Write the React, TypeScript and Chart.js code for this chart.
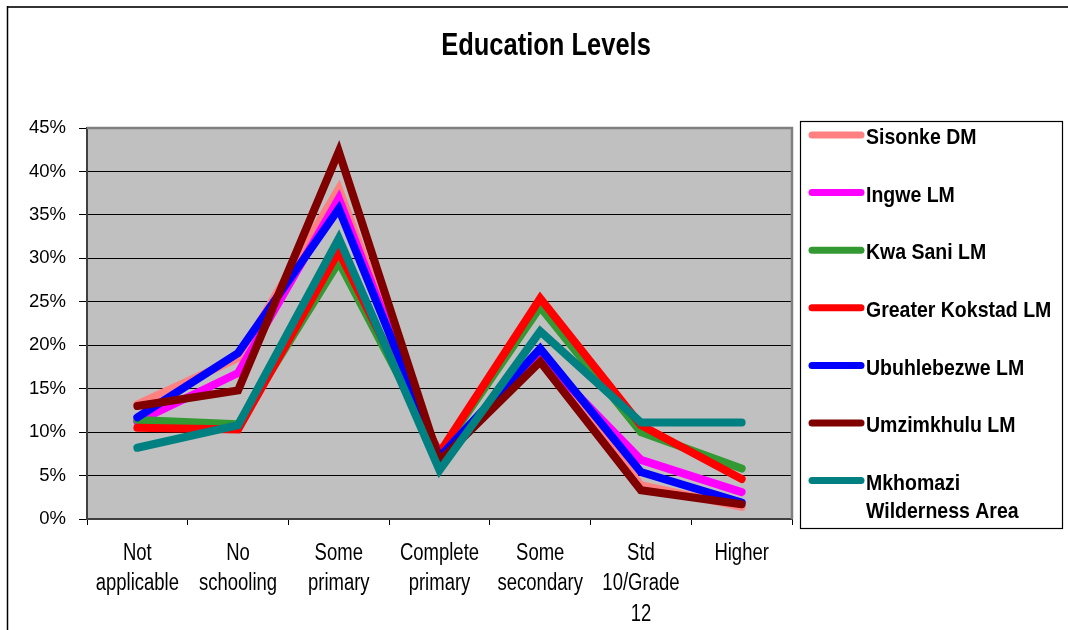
import React, { useEffect, useRef } from "react";
import { Chart, registerables } from "chart.js";

Chart.register(...registerables);

const TITLE = "Education Levels";

const categories: string[][] = [
  ["Not", "applicable"],
  ["No", "schooling"],
  ["Some", "primary"],
  ["Complete", "primary"],
  ["Some", "secondary"],
  ["Std", "10/Grade", "12"],
  ["Higher"],
];

const seriesNames: string[][] = [
  ["Sisonke DM"],
  ["Ingwe LM"],
  ["Kwa Sani LM"],
  ["Greater Kokstad LM"],
  ["Ubuhlebezwe LM"],
  ["Umzimkhulu LM"],
  ["Mkhomazi", "Wilderness Area"],
];

const seriesColors = ["#FF8080", "#FF00FF", "#339933", "#FF0000", "#0000FF", "#800000", "#008080"];

const sisonke = [13.2, 18.5, 38.0, 6.9, 18.5, 3.9, 1.4];
const ingwe = [11.2, 16.8, 36.9, 7.0, 18.7, 6.8, 3.1];
const kwaSani = [11.4, 10.9, 29.6, 7.5, 24.4, 10.0, 5.8];
const greaterKokstad = [10.5, 10.3, 30.8, 7.6, 25.4, 10.8, 4.6];
const ubuhlebezwe = [11.7, 19.1, 35.7, 7.1, 19.6, 5.4, 1.9];
const umzimkhulu = [13.0, 14.8, 42.3, 6.7, 18.1, 3.3, 1.7];
const mkhomazi = [8.2, 10.8, 32.3, 5.6, 21.6, 11.1, 11.1];

const seriesValues = [sisonke, ingwe, kwaSani, greaterKokstad, ubuhlebezwe, umzimkhulu, mkhomazi];

const yTicks = [0, 5, 10, 15, 20, 25, 30, 35, 40, 45];

const FONT = "'Liberation Sans', Arial, sans-serif";

function stretchedText(ctx: CanvasRenderingContext2D, t: string, x: number, y: number, sy: number) {
  ctx.save();
  ctx.translate(x, y);
  ctx.scale(1, sy);
  ctx.fillText(t, 0, 0);
  ctx.restore();
}

const decorPlugin = {
  id: "decor",
  beforeDraw(chart: any) {
    const { ctx, chartArea } = chart;
    ctx.save();
    ctx.fillStyle = "#FFFFFF";
    ctx.fillRect(0, 0, chart.width, chart.height);
    ctx.fillStyle = "#C0C0C0";
    ctx.fillRect(chartArea.left, chartArea.top, chartArea.right - chartArea.left, chartArea.bottom - chartArea.top);
    ctx.restore();
  },
  afterDraw(chart: any) {
    const { ctx, chartArea } = chart;
    ctx.save();
    // plot top and right border
    ctx.strokeStyle = "#808080";
    ctx.lineWidth = 2.5;
    ctx.beginPath();
    ctx.moveTo(chartArea.left, chartArea.top);
    ctx.lineTo(chartArea.right, chartArea.top);
    ctx.lineTo(chartArea.right, chartArea.bottom);
    ctx.stroke();

    // outer frame
    ctx.strokeStyle = "#333333";
    ctx.lineWidth = 2;
    ctx.beginPath();
    ctx.moveTo(7, 7);
    ctx.lineTo(chart.width, 7);
    ctx.stroke();
    ctx.strokeStyle = "#000000";
    ctx.lineWidth = 1.5;
    ctx.beginPath();
    ctx.moveTo(7.5, 6);
    ctx.lineTo(7.5, chart.height);
    ctx.stroke();

    // title
    ctx.fillStyle = "#000";
    ctx.font = `bold 25.5px ${FONT}`;
    ctx.textAlign = "center";
    ctx.textBaseline = "middle";
    stretchedText(ctx, TITLE, 546, 46, 1.22);

    // category labels, positioned by the x scale
    const xs = chart.scales.x;
    ctx.font = `18.5px ${FONT}`;
    ctx.textAlign = "center";
    categories.forEach((lines, i) => {
      const px = xs.getPixelForValue(i);
      lines.forEach((t, j) => {
        stretchedText(ctx, t, px, 553 + j * 30.5, 1.28);
      });
    });

    // legend box
    const bx = 800, by = 121, bw = 262, bh = 407;
    ctx.strokeStyle = "#000";
    ctx.lineWidth = 1.2;
    ctx.strokeRect(bx + 0.5, by + 0.5, bw, bh);
    ctx.font = `bold 19.5px ${FONT}`;
    ctx.textAlign = "left";
    chart.data.datasets.forEach((ds: any, i: number) => {
      const ly = 135 + i * 57.6;
      ctx.strokeStyle = ds.borderColor;
      ctx.lineWidth = 7;
      ctx.lineCap = "round";
      ctx.beginPath();
      ctx.moveTo(812, ly);
      ctx.lineTo(861, ly);
      ctx.stroke();
      ctx.fillStyle = "#000";
      const lines: string[] = seriesNames[i];
      lines.forEach((t, j) => {
        stretchedText(ctx, t, 866, ly + 3 + j * 28, 1.17);
      });
    });
    ctx.restore();
  },
};

export default function App() {
  const ref = useRef<HTMLCanvasElement | null>(null);

  useEffect(() => {
    if (!ref.current) return;
    Chart.defaults.font.family = FONT;
    Chart.defaults.color = "#000";
    const chart = new Chart(ref.current, {
      type: "line",
      data: {
        labels: categories.map((c) => c.join(" ")),
        datasets: seriesValues.map((vals, i) => ({
          label: seriesNames[i].join(" "),
          data: vals,
          borderColor: seriesColors[i],
          backgroundColor: seriesColors[i],
          borderWidth: 8,
          pointRadius: 0,
          pointHoverRadius: 0,
          tension: 0,
          fill: false,
          borderCapStyle: "round",
          borderJoinStyle: "miter",
          order: seriesValues.length - i,
        })),
      },
      options: {
        responsive: false,
        animation: false,
        events: [],
        layout: { padding: { top: 128, left: 0, right: 1068 - 792, bottom: 0 } },
        plugins: {
          legend: { display: false },
          title: { display: false },
          tooltip: { enabled: false },
        },
        scales: {
          x: {
            type: "category",
            offset: true,
            afterFit: (s: any) => {
              s.height = 111;
            },
            grid: {
              offset: true,
              drawOnChartArea: false,
              drawTicks: true,
              tickLength: 6,
              tickColor: "#000",
              tickWidth: 1,
            },
            border: { display: true, color: "#404040", width: 2 },
            ticks: {
              display: false,
              autoSkip: false,
              maxRotation: 0,
            },
          },
          y: {
            min: 0,
            max: 45,
            afterFit: (s: any) => {
              s.width = 87;
            },
            afterBuildTicks: (s: any) => {
              s.ticks = yTicks.map((v) => ({ value: v }));
            },
            grid: {
              color: "#000",
              lineWidth: 1,
              drawTicks: true,
              tickLength: 8,
              tickColor: "#000",
            },
            border: { display: true, color: "#404040", width: 2 },
            ticks: {
              font: { size: 18.5 },
              padding: 13,
              color: "#000",
              callback: (v: any) => `${v}%`,
            },
          },
        },
      },
      plugins: [decorPlugin],
    } as any);
    return () => chart.destroy();
  }, []);

  return (
    <div style={{ position: "absolute", left: 0, top: 0, width: 1068, height: 630 }}>
      <canvas ref={ref} width={1068} height={630} style={{ display: "block" }} />
    </div>
  );
}
